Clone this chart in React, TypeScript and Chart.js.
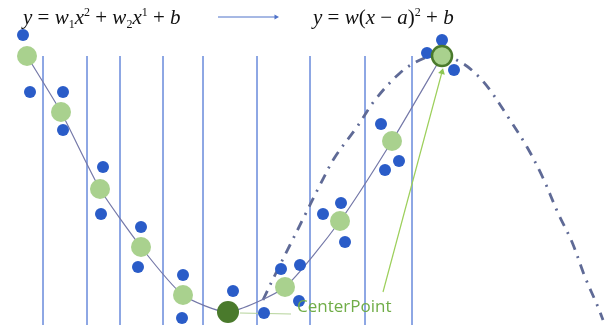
import React, { useEffect, useRef } from "react";
import { Chart, registerables } from "chart.js";

Chart.register(...registerables);

// Vertical guide lines (x positions) and their vertical extent
const gridX = [43, 87, 120, 163, 203, 257, 310, 365, 412];
const gridTop = 56;
const gridBottom = 325;

// Fitted curve through the segment means (green points, incl. center and top)
const curveX = [27, 61, 100, 141, 183, 228, 285, 340, 392, 442];
const curveY = [56, 112, 189, 247, 295, 312, 287, 221, 141, 56];

// Light green segment means
const greenX = [27, 61, 100, 141, 183, 285, 340, 392];
const greenY = [56, 112, 189, 247, 295, 287, 221, 141];

// Center point and top point
const centerX = [228];
const centerY = [312];
const topX = [442];
const topY = [56];

// Raw samples (blue)
const blueX = [23, 30, 63, 63, 103, 101, 141, 138, 183, 182, 233, 264, 281, 300, 299, 323, 341, 345, 381, 399, 385, 427, 442, 454];
const blueY = [35, 92, 92, 130, 167, 214, 227, 267, 275, 318, 291, 313, 269, 265, 301, 214, 203, 242, 124, 161, 170, 53, 40, 70];

// Dash-dot parabola y = w(x-a)^2 + b
const dashX = [263, 275, 290, 305, 320, 335, 357, 375, 400, 420, 440, 462, 477, 490, 508, 527, 543, 558, 572, 585, 598, 603];
const dashY = [300, 275, 245, 215, 185, 157, 127, 100, 73, 60, 54, 63, 75, 90, 117, 147, 178, 213, 242, 277, 307, 320];

// Leader lines
const centerLeaderX = [240, 291];
const centerLeaderY = [313, 314];
const topLeaderX = [383, 442];
const topLeaderY = [292, 72];

// Title arrow
const arrowX = [218, 276];
const arrowY = [17, 17];

const pts = (xs: number[], ys: number[]) => xs.map((x, i) => ({ x, y: ys[i] }));

export default function App() {
  const ref = useRef<HTMLCanvasElement>(null);

  useEffect(() => {
    if (!ref.current) return;
    const gridSets = gridX.map((x) => ({
      type: "line" as const,
      data: [
        { x, y: gridTop },
        { x, y: gridBottom },
      ],
      borderColor: "#7f9be0",
      borderWidth: 1,
      pointRadius: 0,
      order: 20,
    }));

    const chart = new Chart(ref.current, {
      type: "scatter",
      data: {
        datasets: [
          ...gridSets,
          {
            type: "line",
            data: pts(dashX, dashY),
            borderColor: "#5f6a96",
            borderWidth: 2.8,
            borderDash: [10, 7, 2, 7],
            pointRadius: 0,
            tension: 0.35,
            order: 15,
          },
          {
            type: "line",
            data: pts(curveX, curveY),
            borderColor: "#7478a8",
            borderWidth: 1.2,
            pointRadius: 0,
            tension: 0.2,
            order: 10,
          },
          {
            type: "line",
            data: pts(centerLeaderX, centerLeaderY),
            borderColor: "#b5d39a",
            borderWidth: 1,
            pointRadius: 0,
            order: 9,
          },
          {
            type: "line",
            data: pts(topLeaderX, topLeaderY),
            borderColor: "#9ccf5a",
            borderWidth: 1.2,
            pointRadius: [0, 4],
            pointStyle: "triangle",
            rotation: 15,
            pointBackgroundColor: "#8cc653",
            pointBorderWidth: 0,
            order: 2,
          },
          {
            type: "line",
            data: pts(arrowX, arrowY),
            borderColor: "#4f72c9",
            borderWidth: 1,
            pointRadius: [0, 3],
            pointStyle: "triangle",
            rotation: 90,
            pointBackgroundColor: "#4f72c9",
            pointBorderWidth: 0,
            order: 8,
          },
          {
            data: pts(greenX, greenY),
            backgroundColor: "#a9d18e",
            borderWidth: 0,
            pointRadius: 10,
            order: 4,
          },
          {
            data: pts(blueX, blueY),
            backgroundColor: "#2a5cc8",
            borderWidth: 0,
            pointRadius: 6,
            order: 3,
          },
          {
            data: pts(centerX, centerY),
            backgroundColor: "#4a7a2c",
            borderWidth: 0,
            pointRadius: 11,
            order: 1,
          },
          {
            data: pts(topX, topY),
            backgroundColor: "#a9d18e",
            borderColor: "#4a7a2c",
            borderWidth: 2.5,
            pointRadius: 10,
            order: 0,
          },
        ] as any,
      },
      options: {
        animation: false,
        responsive: false,
        maintainAspectRatio: false,
        layout: { padding: 0, autoPadding: false },
        plugins: { legend: { display: false }, tooltip: { enabled: false }, title: { display: false } },
        scales: {
          x: { type: "linear", min: 0, max: 609, display: false },
          y: { type: "linear", min: 0, max: 325, reverse: true, display: false },
        },
      },
    });
    return () => chart.destroy();
  }, []);

  const formula: React.CSSProperties = {
    position: "absolute",
    fontFamily: "'Liberation Serif', 'DejaVu Serif', serif",
    fontStyle: "italic",
    fontSize: 21,
    color: "#111",
    whiteSpace: "nowrap",
    lineHeight: "20px",
  };
  const up: React.CSSProperties = { fontStyle: "normal" };
  const sub: React.CSSProperties = { fontSize: 12, verticalAlign: "-4px", lineHeight: 0, fontStyle: "normal" };
  const sup: React.CSSProperties = { fontSize: 12, verticalAlign: "8px", lineHeight: 0, fontStyle: "normal" };

  return (
    <div style={{ position: "fixed", left: 0, top: 0, width: 609, height: 325, background: "#fff", overflow: "hidden" }}>
      <canvas ref={ref} width={609} height={325} style={{ position: "absolute", left: 0, top: 0 }} />
      <div style={{ ...formula, left: 23, top: 7 }}>
        y <span style={up}>=</span> w<span style={sub}>1</span>x<span style={sup}>2</span> <span style={up}>+</span> w
        <span style={sub}>2</span>x<span style={sup}>1</span> <span style={up}>+</span> b
      </div>
      <div style={{ ...formula, left: 313, top: 7 }}>
        y <span style={up}>=</span> w<span style={up}>(</span>x <span style={up}>−</span> a<span style={up}>)</span>
        <span style={sup}>2</span> <span style={up}>+</span> b
      </div>
      <div
        style={{
          position: "absolute",
          left: 297,
          top: 296,
          fontFamily: "'Open Sans', 'Noto Sans', sans-serif",
          fontSize: 17,
          color: "#70ad47",
          whiteSpace: "nowrap",
          lineHeight: "20px",
        }}
      >
        CenterPoint
      </div>
    </div>
  );
}
